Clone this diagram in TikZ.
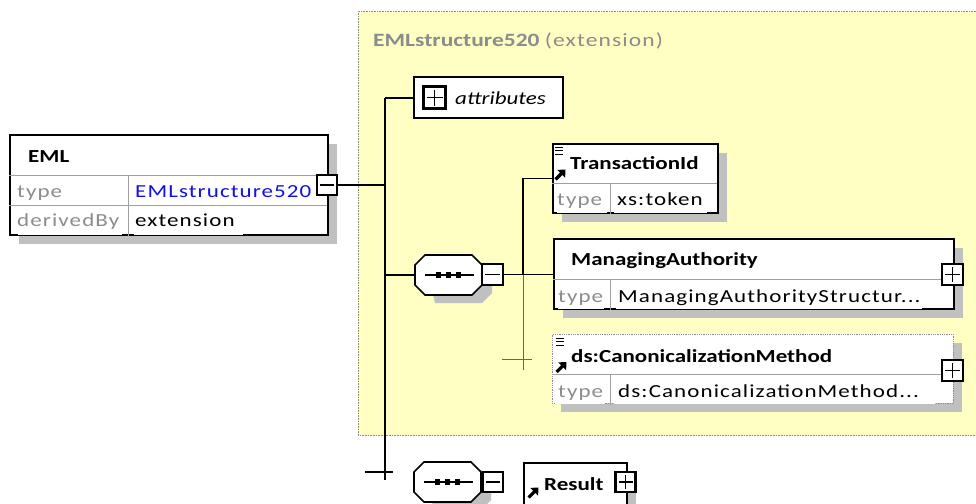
\documentclass[tikz,border=0pt]{standalone}
\usepackage{fontspec}
\setmainfont{Carlito}[FakeStretch=1.25]
\newfontfamily\spacedfont{Carlito}[FakeStretch=1.25,LetterSpace=6]
\usetikzlibrary{shadows}
\definecolor{yel}{HTML}{FFFFC4}
\definecolor{shd}{HTML}{C0C0C0}
\definecolor{lbl}{HTML}{8C8C8C}
\definecolor{lnk}{HTML}{1010E8}
\definecolor{divc}{HTML}{A0A0A0}
\tikzset{
  conn/.style={line width=1.6pt},
  thinconn/.style={line width=0.6pt, draw=black!60},
  shadowed/.style={drop shadow={shadow xshift=9pt, shadow yshift=-9pt, fill=shd, opacity=1}},
  elbox/.style={draw, line width=1.6pt, fill=white, inner sep=0, anchor=north west, shadowed},
  optbox/.style={elbox, draw=black!45, line width=0.8pt, densely dotted},
  plainbox/.style={draw, line width=1.6pt, fill=white, inner sep=0, anchor=north west},
  divline/.style={draw=divc, line width=1pt},
  gapline/.style={draw=white, line width=2pt},
  pmbox/.style={draw, line width=2.8pt, fill=white, minimum size=20pt, inner sep=0},
  minusbox/.style={pmbox, path picture={\draw[line width=1.1pt] ([xshift=3pt]path picture bounding box.west) -- ([xshift=-3pt]path picture bounding box.east);}},
  plusbox/.style={pmbox, path picture={\draw[line width=1.1pt] ([xshift=3pt]path picture bounding box.west) -- ([xshift=-3pt]path picture bounding box.east) ([yshift=-3pt]path picture bounding box.north) -- ([yshift=3pt]path picture bounding box.south);}},
  seqnode/.style={draw=none, minimum width=67pt, minimum height=40pt, inner sep=0},
  hdr/.style={anchor=base west, inner sep=0, font=\fontsize{18.4}{20}\selectfont\bfseries},
  rowlbl/.style={anchor=base west, inner sep=0, text=lbl, font=\spacedfont\fontsize{18.4}{20}\selectfont},
  rowval/.style={anchor=base west, inner sep=0, text=black, font=\spacedfont\fontsize{18.4}{20}\selectfont},
  refarrow/.pic={
    \fill (11,0) -- (2.8,0.4) -- (10.6,8.2) -- cycle;
    \draw[line width=3.2pt] (1,10) -- (7,4);
  },
  lines3/.pic={
    \draw[line width=1pt] (0,0) -- (8,0) (0,3.8) -- (8,3.8) (0,7.6) -- (8,7.6);
  },
  octo/.pic={
    \fill[shd] (-23.5,-12) -- (33.5,-12) -- (43.5,-2) -- (43.5,18) -- (33.5,28) -- (-13.5,28) -- cycle;
    \draw[line width=1.6pt, fill=white] (-33.5,-10) -- (-23.5,-20) -- (23.5,-20) -- (33.5,-10) -- (33.5,10) -- (23.5,20) -- (-23.5,20) -- (-33.5,10) -- cycle;
    \draw[line width=1.1pt] (-24,0) -- (25,0);
    \fill (-12.5,-2.7) rectangle (-7.5,2.7);
    \fill (-2.5,-2.7) rectangle (2.5,2.7);
    \fill (7.5,-2.7) rectangle (12.5,2.7);
  }
}
\begin{document}
\begin{tikzpicture}[x=1pt,y=-1pt]
\useasboundingbox (0,0) rectangle (976,503);
\clip (0,0) rectangle (976,503);
\fill[white] (0,0) rectangle (976,503);

% extension area
\node[draw=lbl, densely dotted, fill=yel, line width=0.6pt, anchor=north west,
      minimum width=640pt, minimum height=424pt, inner sep=0] (ext) at (358,11) {};
\node[anchor=base west, inner sep=0, text=lbl, font=\fontsize{18.8}{20}\selectfont] (title) at (373,47)
  {\textbf{EMLstructure520} {\spacedfont(extension)}};

% EML element
\node[elbox, minimum width=318pt, minimum height=100pt] (eml) at (9,134) {};
\draw[divline] (9,175) -- (327,175);
\draw[divline] (9,205) -- (327,205);
\draw[divline] (128,175) -- (128,236);
\draw[gapline] (18,234) -- (122,234);
\draw[gapline] (134,234) -- (243,234);
\node[hdr] (emlname) at (28,162) {EML};
\node[rowlbl] (emlt) at (17,197) {type};
\node[rowval, text=lnk] (emltv) at (135,197) {EMLstructure520};
\node[rowlbl] (emld) at (17,226) {derivedBy};
\node[rowval] (emldv) at (135,226) {extension};
\node[minusbox] (emlm) at (327,185) {};

% attributes
\node[plainbox, minimum width=149pt, minimum height=41pt] (attr) at (413,76) {};
\node[plusbox, minimum size=22pt] (attrp) at (434.5,97.5) {};
\node[anchor=base west, inner sep=0, font=\fontsize{18.4}{20}\selectfont\itshape] (attrt) at (455,104) {attributes};

% sequence 1
\node[seqnode] (seq1) at (448.5,275) {};
\pic at (seq1.center) {octo};
\node[minusbox, minimum size=21pt] (seq1m) at (492.5,274.5) {};

% TransactionId
\node[elbox, minimum width=165pt, minimum height=69pt] (tid) at (552,143) {};
\draw[divline] (552,183) -- (717,183);
\draw[divline] (610,183) -- (610,214);
\draw[gapline] (557,212) -- (607,212);
\draw[gapline] (614,212) -- (707,212);
\pic at (555,147) {lines3};
\pic at (554.5,169.5) {refarrow};
\node[hdr] (tidname) at (570,169) {TransactionId};
\node[rowlbl] (tidt) at (557,205) {type};
\node[rowval] (tidv) at (617,205) {xs:token};

% ManagingAuthority
\node[elbox, minimum width=400pt, minimum height=70pt] (ma) at (553,238) {};
\draw[divline] (553,279) -- (953,279);
\draw[divline] (610,279) -- (610,310);
\draw[gapline] (558,308) -- (604,308);
\draw[gapline] (616,308) -- (922,308);
\node[hdr] (maname) at (571,265) {ManagingAuthority};
\node[rowlbl] (mat) at (558,302) {type};
\node[rowval] (mav) at (618,302) {ManagingAuthorityStructur...};
\node[plusbox, minimum size=21pt] (map) at (952.5,274.5) {};

% ds:CanonicalizationMethod
\node[optbox, minimum width=401pt, minimum height=69pt] (cm) at (552,334) {};
\draw[divline] (552,374) -- (953,374);
\draw[divline] (610,374) -- (610,405);
\draw[gapline] (555,403) -- (605,403);
\draw[gapline] (614,403) -- (935,403);
\pic at (556,338) {lines3};
\pic at (555.5,362) {refarrow};
\node[hdr] (cmname) at (571,362) {ds:CanonicalizationMethod};
\node[rowlbl] (cmt) at (558,397) {type};
\node[rowval] (cmv) at (618,397) {ds:CanonicalizationMethod...};
\node[plusbox, minimum size=21pt] (cmp) at (952.5,370.5) {};

% sequence 2 and Result
\node[seqnode] (seq2) at (447.5,482) {};
\pic at (seq2.center) {octo};
\node[minusbox] (seq2m) at (493,482) {};
\node[elbox, minimum width=103pt, minimum height=44pt] (res) at (523,462) {};
\pic at (527.5,487.5) {refarrow};
\node[hdr] (resname) at (544,490) {Result};
\node[plusbox] (resp) at (625.5,482) {};

% connectors
\coordinate (vtop) at (385,98);
\coordinate (vbot) at (385,480);
\coordinate (j1) at (523,274.5);
\coordinate (j1end) at (523,370);
\coordinate (tk1a) at (502,359);
\coordinate (tk1b) at (532,359);
\coordinate (tk2a) at (365,472);
\coordinate (tk2b) at (393,472);
\draw[conn] (emlm.east) -- (emlm.east -| vtop);
\draw[conn] (vtop) -- (vbot);
\draw[conn] (vtop) -- (vtop -| attr.west);
\draw[conn] (seq1.west -| vtop) -- (seq1.west);
\draw[conn] (seq1m.east) -- (seq1m.east -| ma.west);
\draw[conn] (j1) |- (tid.west);
\draw[thinconn] (j1) -- (j1end);
\draw[thinconn] (tk1a) -- (tk1b);
\draw[conn] (tk2a) -- (tk2b);
\end{tikzpicture}
\end{document}
